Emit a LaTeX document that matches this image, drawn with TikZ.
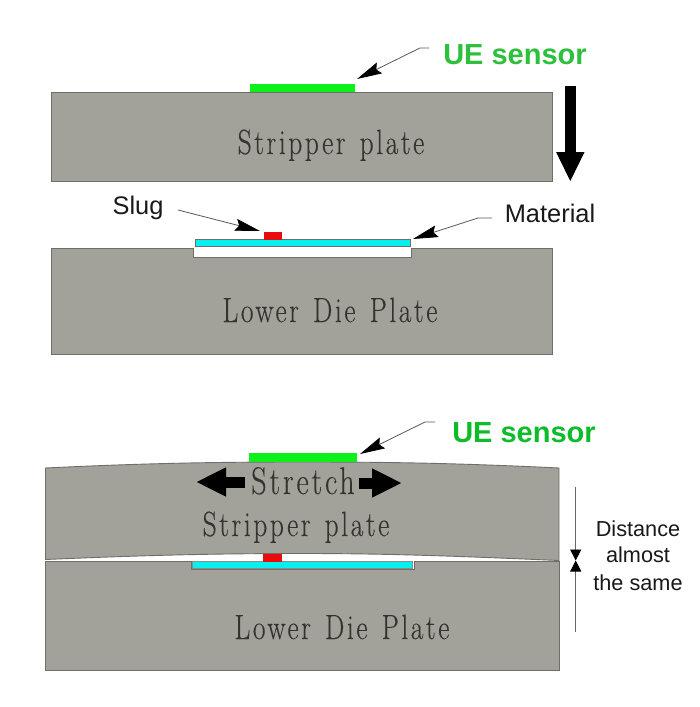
\documentclass[tikz,border=0pt]{standalone}
\usepackage{fontspec}
\setsansfont{Liberation Sans}
\newfontfamily\cadfont[FakeStretch=0.78,LetterSpace=7.5,WordSpace=1.3,FakeBold=0.25]{Latin Modern Roman}
\usetikzlibrary{arrows.meta}
\definecolor{plategray}{HTML}{A3A29A}
\definecolor{plateedge}{HTML}{6E6E6A}
\definecolor{sensorgreen}{HTML}{0CF01C}
\definecolor{labelgreenA}{HTML}{2EC03C}
\definecolor{labelgreenB}{HTML}{0CBC28}
\definecolor{matcyan}{HTML}{06F0F0}
\definecolor{slugred}{HTML}{E80C0C}
\definecolor{serifink}{HTML}{33332F}
\tikzset{
  plate/.style={fill=plategray,draw=plateedge,line width=0.9pt},
  sensorbar/.style={fill=sensorgreen,draw=none},
  materialbar/.style={fill=matcyan,draw=plateedge,line width=0.8pt},
  materialbarB/.style={fill=matcyan,draw=plateedge!80,line width=1.5pt},
  slugbar/.style={fill=slugred,draw=none},
  platelabel/.style={anchor=base,inner sep=0pt,text=serifink,font=\cadfont\fontsize{35}{35}\selectfont},
  stretchlabel/.style={anchor=base,inner sep=0pt,text=serifink,font=\cadfont\fontsize{38.5}{38}\selectfont},
  sanslabel/.style={anchor=base,inner sep=0pt,text=black!90,font=\sffamily\fontsize{25.4}{25}\selectfont},
  smalllabel/.style={anchor=base,inner sep=0pt,text=black!90,font=\sffamily\fontsize{21.7}{22}\selectfont},
  uelabel/.style={anchor=base,inner sep=0pt,font=\sffamily\bfseries\fontsize{29}{29}\selectfont},
  leader/.style={draw=black!65,line width=0.8pt,-{Stealth[length=25pt,width=12pt,inset=3.5pt,black]}},
  bigarrow/.style={line width=10.5pt,black,-{Triangle[length=30pt,width=26pt]}},
  stretcharrow/.style={line width=11pt,black,-{Triangle[length=30pt,width=27pt]}},
  dimline/.style={draw=black!60,line width=0.9pt,-{Triangle[length=11pt,width=11pt,black]}}
}
\begin{document}
\begin{tikzpicture}[x=1pt,y=-1pt]
\useasboundingbox (0,0) rectangle (700,707);
\fill[white] (0,0) rectangle (700,707);
% --- upper figure ---
\path[plate] (51.5,92) rectangle (552.5,181.5);
\path[sensorbar] (250,84) rectangle (355,92);
\path[plate] (51.5,248.5) -- (193,248.5) -- (193,257) -- (411,257) -- (411,248.5) -- (552.5,248.5) -- (552.5,354) -- (51.5,354) -- cycle;
\path[materialbar] (195,239.5) rectangle (410,246);
\path[slugbar] (264,232) rectangle (282,239.5);
\node[platelabel] (stripA) at (331,154) {Stripper plate};
\node[platelabel] (dieA) at (330,322) {Lower Die Plate};
\node[uelabel,text=labelgreenA] (ueA) at (515,64) {UE sensor};
\node[sanslabel] (slugA) at (138,214) {Slug};
\node[sanslabel] (matA) at (550,222) {Material};
\coordinate (ueAend) at (429,48);
\coordinate (ueAbend) at (420,48);
\coordinate (ueAtip) at (357,79);
\coordinate (slugAend) at (178,210);
\coordinate (slugAtip) at (260,231);
\coordinate (matAend) at (492,218);
\coordinate (matAbend) at (478,218);
\coordinate (matAtip) at (413,239);
\draw[leader] (ueAend) -- (ueAbend) -- (ueAtip);
\draw[leader] (slugAend) -- (slugAtip);
\draw[leader] (matAend) -- (matAbend) -- (matAtip);
\coordinate (downS) at (570.3,86);
\coordinate (downE) at (570.3,182);
\draw[bigarrow] (downS) -- (downE);
% --- lower figure ---
\path[plate] (45.5,561) -- (191,561) -- (191,569.5) -- (414,569.5) -- (414,561) -- (559,561) -- (559,670) -- (45.5,670) -- cycle;
\path[plate] (45.5,468) .. controls (150,463) and (220,462) .. (303,462)
  .. controls (386,462) and (455,463) .. (559,468)
  -- (559,560.5) .. controls (455,556) and (386,553.5) .. (303,553.5)
  .. controls (220,553.5) and (150,555) .. (45.5,559.5) -- cycle;
\path[sensorbar] (249,453) rectangle (356.5,462);
\path[materialbarB] (192.5,561.5) rectangle (412.5,568.5);
\path[slugbar] (263,553.5) rectangle (282,561.5);
\node[stretchlabel] (stretchB) at (303,494) {Stretch};
\node[platelabel] (stripB) at (296,536) {Stripper plate};
\node[platelabel] (dieB) at (342,639) {Lower Die Plate};
\node[uelabel,text=labelgreenB] (ueB) at (524,442) {UE sensor};
\node[smalllabel] (distA) at (638,536) {Distance};
\node[smalllabel] (distB) at (638,562.7) {almost};
\node[smalllabel] (distC) at (638,590) {the same};
\coordinate (ueBend) at (435,422);
\coordinate (ueBbend) at (425,422);
\coordinate (ueBtip) at (360,454);
\draw[leader] (ueBend) -- (ueBbend) -- (ueBtip);
\coordinate (stLs) at (245,482);
\coordinate (stLe) at (196,482);
\coordinate (stRs) at (359,483);
\coordinate (stRe) at (402,483);
\draw[stretcharrow] (stLs) -- (stLe);
\draw[stretcharrow] (stRs) -- (stRe);
\coordinate (dimT) at (575.7,487);
\coordinate (dimB) at (575.7,632);
\coordinate (dimM) at (575.7,560.5);
\draw[dimline] (dimT) -- (dimM);
\draw[dimline] (dimB) -- (dimM);
\end{tikzpicture}
\end{document}
